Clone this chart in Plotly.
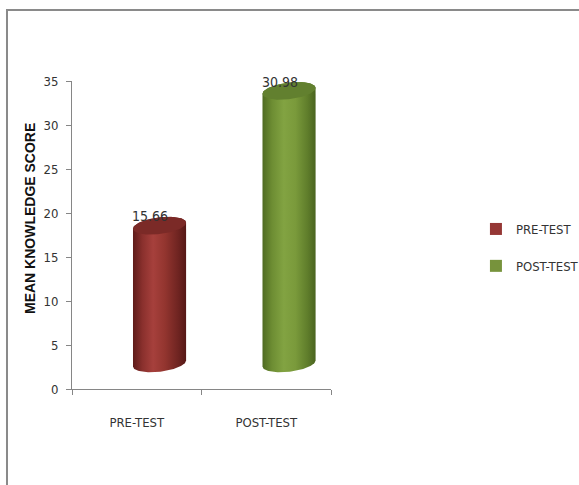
import numpy as np
import plotly.graph_objects as go

# Mean knowledge scores before and after the programme
categories = ["PRE-TEST", "POST-TEST"]
mean_scores = [15.66, 30.98]
y_ticks = [0, 5, 10, 15, 20, 25, 30, 35]

# Cylinder styling (body gradient stops, cap colour, legend colour)
body_scales = [
    [[0.0, "#5f1b19"], [0.18, "#8a302d"], [0.38, "#a6403c"], [0.6, "#93352f"], [0.85, "#6f2421"], [1.0, "#561816"]],
    [[0.0, "#4f6b22"], [0.18, "#6d8d33"], [0.4, "#82a342"], [0.62, "#7a9a3b"], [0.85, "#5f7d2b"], [1.0, "#4a641f"]],
]
cap_colors = ["#7b2a27", "#62802f"]
legend_colors = ["#953735", "#77933c"]

# 3-D look: cylinders are pushed back (right and up) from the category slot
depth_dx = 0.176
depth_dy = 2.9
half_w = 0.205
cap_ry = 0.95
tilt = 1.66

font_narrow = "Liberation Sans Narrow, Arial Narrow, DejaVu Sans Condensed, sans-serif"
text_col = "#333333"
axis_col = "#868686"

fig = go.Figure()

# Plain bars carry the values and the legend swatches; cylinders are drawn over them
for i, (cat, v) in enumerate(zip(categories, mean_scores)):
    fig.add_trace(go.Bar(
        x=[i + depth_dx], y=[v], base=[depth_dy], width=0.3,
        marker=dict(color=legend_colors[i], line=dict(width=0)),
        name=cat, legendgroup=cat, hoverinfo="skip",
    ))

t_top = np.linspace(np.pi, 0, 60)
t_bot = np.linspace(0, -np.pi, 60)
t_full = np.linspace(0, 2 * np.pi, 120)

for i, v in enumerate(mean_scores):
    xc = i + depth_dx
    bottom = depth_dy
    top = depth_dy + v

    def ell(t, yc):
        dx = half_w * np.cos(t)
        return xc + dx, yc + cap_ry * np.sin(t) + tilt * dx

    xt, yt = ell(t_top, top)
    xb, yb = ell(t_bot, bottom)
    bx = np.concatenate([xt, xb, xt[:1]])
    by = np.concatenate([yt, yb, yt[:1]])
    fig.add_trace(go.Scatter(
        x=bx, y=by, mode="lines", fill="toself", line=dict(width=0),
        fillgradient=dict(type="horizontal", colorscale=body_scales[i]),
        showlegend=False, hoverinfo="skip",
    ))
    cx, cy = ell(t_full, top)
    fig.add_trace(go.Scatter(
        x=cx, y=cy, mode="lines", fill="toself", line=dict(width=0),
        fillcolor=cap_colors[i], showlegend=False, hoverinfo="skip",
    ))
    fig.add_annotation(
        x=xc - 0.073, y=top + cap_ry + 0.1, text=f"{v:.2f}", showarrow=False,
        xanchor="center", yanchor="middle",
        font=dict(family=font_narrow, size=14, color=text_col),
    )

# Y-axis title
fig.add_annotation(
    x=-0.162, y=0.552, xref="paper", yref="paper", text="<b>MEAN KNOWLEDGE SCORE</b>",
    textangle=-90, showarrow=False, xanchor="center", yanchor="middle",
    font=dict(family="Liberation Sans, Arial, sans-serif", size=14, color="#111111"),
)

# Chart-area frame (left and top edges visible)
fig.add_shape(
    type="rect", xref="paper", yref="paper", x0=-0.251, x1=2.05, y0=-0.36, y1=1.2305,
    line=dict(color="#8a8a8a", width=2), fillcolor="rgba(0,0,0,0)", layer="below",
)

fig.update_layout(
    width=579, height=485,
    margin=dict(l=72, r=248, t=81, b=96),
    paper_bgcolor="white", plot_bgcolor="white",
    barmode="overlay",
    showlegend=True,
    legend=dict(
        xref="container", yref="container", x=0.822, y=1 - 214 / 485,
        xanchor="left", yanchor="top", tracegroupgap=17,
        font=dict(family=font_narrow, size=13, color=text_col),
        bgcolor="rgba(0,0,0,0)",
    ),
    xaxis=dict(
        type="linear", range=[-0.5, 1.5], tickvals=[0, 1], ticktext=categories,
        ticks="", showgrid=False, zeroline=False, showline=True,
        linecolor=axis_col, linewidth=1, ticklabelstandoff=21,
        tickfont=dict(family=font_narrow, size=13, color=text_col),
        minor=dict(tickvals=[-0.5, 0.5, 1.5], ticks="outside", ticklen=5,
                   tickcolor=axis_col, showgrid=False),
        fixedrange=True,
    ),
    yaxis=dict(
        range=[0, 35], tickvals=y_ticks, ticks="outside", ticklen=5,
        tickcolor=axis_col, showgrid=False, zeroline=False, showline=True,
        linecolor=axis_col, linewidth=1, ticklabelstandoff=5,
        tickfont=dict(family=font_narrow, size=13, color=text_col),
        fixedrange=True,
    ),
)

fig.write_html("out.html")
